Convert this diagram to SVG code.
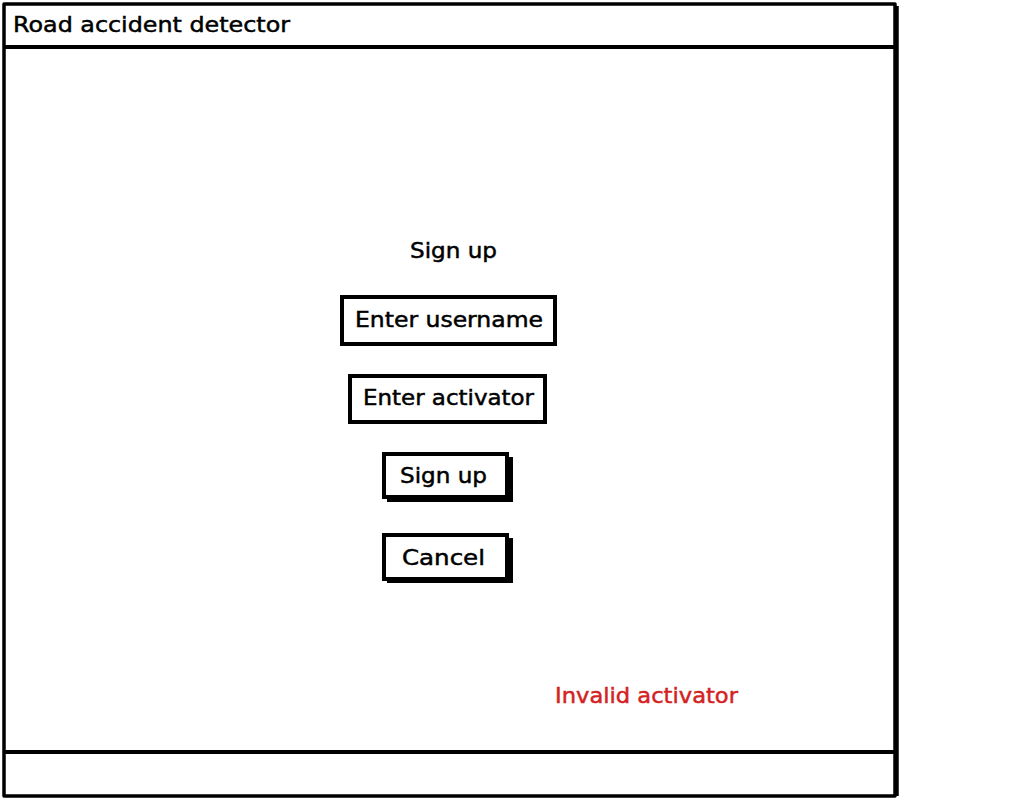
<svg xmlns="http://www.w3.org/2000/svg" width="1024" height="800" viewBox="0 0 1024 800">
<style>
.frame{fill:#fff;stroke:#000;stroke-width:3.5;stroke-linejoin:round}
.box{fill:#fff;stroke:#000;stroke-width:4}
.shadow{fill:#000}
text{font-family:"DejaVu Sans","Liberation Sans",Arial,sans-serif;font-size:22px;fill:#000;stroke:#000;stroke-width:0.5}
.red{fill:#d32222;stroke:#d32222}
</style>
<rect width="1024" height="800" fill="#fff"/>
<g id="window">
<rect class="frame" x="4" y="4" width="891" height="792"/>
<line x1="897" y1="6" x2="897" y2="796" stroke="#000" stroke-width="3.5"/>
<line x1="4" y1="47" x2="895" y2="47" stroke="#000" stroke-width="4"/>
<line x1="4" y1="752" x2="895" y2="752" stroke="#000" stroke-width="4"/>
<text x="13" y="32" textLength="277" lengthAdjust="spacingAndGlyphs">Road accident detector</text>
</g>
<g id="title"><text x="410" y="258" textLength="87" lengthAdjust="spacingAndGlyphs">Sign up</text></g>
<g id="username">
<rect class="box" x="342" y="297" width="213" height="47"/>
<text x="355" y="327" textLength="188" lengthAdjust="spacingAndGlyphs">Enter username</text>
</g>
<g id="activator">
<rect class="box" x="350" y="376" width="195" height="46"/>
<text x="363" y="405" textLength="171" lengthAdjust="spacingAndGlyphs">Enter activator</text>
</g>
<g id="signup">
<rect class="shadow" x="387" y="457" width="126" height="45"/>
<rect class="box" x="384" y="454" width="123" height="43"/>
<text x="400" y="483" textLength="87" lengthAdjust="spacingAndGlyphs">Sign up</text>
</g>
<g id="cancel">
<rect class="shadow" x="387" y="538" width="126" height="45"/>
<rect class="box" x="384" y="535" width="123" height="44"/>
<text x="402" y="565" textLength="83" lengthAdjust="spacingAndGlyphs">Cancel</text>
</g>
<g id="error"><text class="red" x="555" y="703" textLength="183" lengthAdjust="spacingAndGlyphs">Invalid activator</text></g>
</svg>
